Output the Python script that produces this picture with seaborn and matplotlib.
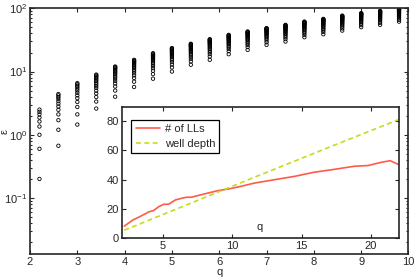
import numpy as np
import pandas as pd
import matplotlib
matplotlib.use("Agg")
import matplotlib.pyplot as plt
import seaborn as sns

# --- main panel: energy levels per q ---
q_values = [2.2, 2.6, 3.0, 3.4, 3.8, 4.2, 4.6, 5.0, 5.4, 5.8,
            6.2, 6.6, 7.0, 7.4, 7.8, 8.2, 8.6, 9.0, 9.4, 9.8]

levels = [
    [0.2, 0.6, 1.0, 1.35, 1.62, 1.87, 2.1, 2.3, 2.5],
    [0.67, 1.2, 1.7, 2.1, 2.48, 2.8, 3.1, 3.4, 3.7, 3.95, 4.2, 4.4],
    [1.45, 2.1, 2.75, 3.3, 3.8, 4.2, 4.6, 5.0, 5.35, 5.7, 6.0, 6.3, 6.55],
    [2.6, 3.35, 3.95, 4.5, 5.0, 5.5, 5.9, 6.3, 6.7, 7.1, 7.45, 7.8, 8.1, 8.4, 8.7, 8.95],
    [4.0, 5.0, 5.8, 6.5, 7.1, 7.7, 8.2, 8.7, 9.2, 9.6, 10.0, 10.4, 10.8, 11.2, 11.5, 11.8, 12.0],
    [5.7, 6.9, 7.9, 8.7, 9.4, 10.1, 10.7, 11.3, 11.9, 12.4, 12.9, 13.4, 13.8, 14.2, 14.6, 15.0, 15.3],
    [7.7, 9.1, 10.3, 11.3, 12.2, 13.0, 13.8, 14.5, 15.2, 15.8, 16.4, 17.0, 17.5, 18.0, 18.5, 19.0, 19.5],
    [10.0, 11.6, 12.9, 14.1, 15.1, 16.0, 16.9, 17.7, 18.4, 19.1, 19.8, 20.4, 21.0, 21.6, 22.1, 22.6, 23.1, 23.5],
    [12.8, 14.5, 15.9, 17.1, 18.2, 19.2, 20.2, 21.1, 21.9, 22.7, 23.4, 24.1, 24.8, 25.4, 26.0, 26.5, 27.0, 27.5],
    [15.3, 17.3, 18.9, 20.3, 21.6, 22.8, 23.9, 24.9, 25.9, 26.8, 27.7, 28.5, 29.3, 30.0, 30.7, 31.3, 31.9, 32.5],
    [18.8, 21.0, 22.8, 24.4, 25.8, 27.1, 28.3, 29.5, 30.6, 31.6, 32.6, 33.5, 34.4, 35.2, 36.0, 36.7, 37.4, 38.0],
    [22.0, 24.4, 26.4, 28.1, 29.7, 31.1, 32.5, 33.7, 34.9, 36.0, 37.1, 38.1, 39.0, 39.9, 40.8, 41.6, 42.3, 43.0],
    [26.4, 29.0, 31.1, 33.0, 34.7, 36.2, 37.6, 39.0, 40.2, 41.4, 42.5, 43.6, 44.6, 45.6, 46.5, 47.3, 48.0, 48.5],
    [29.8, 32.6, 35.0, 37.1, 39.0, 40.7, 42.3, 43.8, 45.2, 46.5, 47.8, 49.0, 50.1, 51.2, 52.2, 53.1, 54.0, 54.7],
    [34.9, 38.0, 40.6, 42.9, 44.9, 46.8, 48.5, 50.1, 51.6, 53.0, 54.3, 55.6, 56.8, 57.9, 59.0, 60.0, 60.9, 61.6],
    [38.9, 42.2, 45.0, 47.5, 49.7, 51.7, 53.6, 55.3, 56.9, 58.4, 59.8, 61.2, 62.5, 63.7, 64.9, 66.0, 67.0, 68.0],
    [44.4, 48.0, 51.1, 53.8, 56.2, 58.4, 60.4, 62.3, 64.1, 65.7, 67.3, 68.8, 70.2, 71.6, 72.9, 74.1, 75.4, 76.7],
    [50.3, 54.2, 57.5, 60.3, 62.9, 65.2, 67.4, 69.4, 71.3, 73.1, 74.8, 76.4, 77.9, 79.3, 80.7, 82.0, 83.0, 83.6],
    [54.7, 58.8, 62.3, 65.4, 68.1, 70.6, 72.9, 75.1, 77.1, 79.0, 80.8, 82.5, 84.1, 85.7, 87.2, 88.6, 89.9, 91.0],
    [61.6, 65.9, 69.6, 72.8, 75.7, 78.3, 80.8, 83.1, 85.3, 87.3, 89.2, 91.0, 92.7, 94.3, 95.8, 97.0, 97.7],
]

# --- inset: number of Landau levels and well depth ---
ll_q = [2.2, 2.8, 3.4, 4.0, 4.3, 4.7, 5.05, 5.4, 5.9, 6.35, 6.7, 7.05, 8.0, 9.0,
        9.7, 10.4, 10.9, 11.6, 13.05, 14.5, 15.9, 17.3, 18.8, 19.8, 20.8, 21.4, 22.0]
ll_count = [8.1, 12.2, 15.0, 18.0, 18.7, 21.5, 23.1, 23.1, 26.1, 27.2, 27.9, 27.9, 30.2, 32.5,
            33.5, 34.9, 36.0, 37.6, 39.9, 42.2, 45.0, 46.9, 49.1, 49.6, 51.9, 52.9, 50.3]
depth_q = [2.2, 5.05, 11.6, 17.3, 22.0]
depth = [5.3, 16.3, 41.6, 63.3, 81.0]

sns.set_style("ticks")
plt.rcParams['font.family'] = ['Liberation Sans', 'DejaVu Sans']
plt.rcParams['mathtext.fontset'] = 'custom'
plt.rcParams['mathtext.rm'] = 'Liberation Sans'
plt.rcParams['font.size'] = 8
for k in ['xtick.direction', 'ytick.direction']:
    plt.rcParams[k] = 'in'

df = pd.DataFrame({
    'q': [q for q, col in zip(q_values, levels) for _ in col],
    'eps': [v for col in levels for v in col],
})

fig = plt.figure(figsize=(4.15, 2.77), dpi=100)
ax = fig.add_axes([0.0723, 0.083, 0.912, 0.887])

sns.scatterplot(data=df, x='q', y='eps', ax=ax, marker='o', s=6,
                facecolor='none', edgecolor='black', linewidth=0.6, legend=False)
ax.set_yscale('log')
ax.set_xlim(2, 10)
ax.set_ylim(0.013, 100)
ax.set_xticks(range(2, 11))
ax.set_xlabel('q', labelpad=0)
ax.set_ylabel('ε')
ax.yaxis.set_label_coords(-0.053, 0.5)
ax.tick_params(which='both', top=True, right=True, labelsize=8, length=3, width=0.8, pad=2)
ax.tick_params(which='minor', length=1.5)
for s in ax.spines.values():
    s.set_linewidth(1.2)

# Inset
ax_in = fig.add_axes([0.2928, 0.1408, 0.6675, 0.4747])
sns.lineplot(x=ll_q, y=ll_count, ax=ax_in, color='#ff5a4a', linewidth=1.2, label='# of LLs')
sns.lineplot(x=depth_q, y=depth, ax=ax_in, color='#c5dc1c', linewidth=1.2,
             linestyle=(0, (3, 2)), label='well depth')
ax_in.set_xlim(2, 22)
ax_in.set_ylim(0, 90)
ax_in.set_xticks([5, 10, 15, 20])
ax_in.set_yticks([0, 20, 40, 60, 80])
ax_in.set_xlabel('q')
ax_in.xaxis.set_label_coords(0.5, 0.125)
ax_in.tick_params(top=True, right=True, labelsize=8, length=3, width=0.8, pad=2)
for s in ax_in.spines.values():
    s.set_linewidth(1.2)
leg = ax_in.legend(loc='upper left', bbox_to_anchor=(0.035, 0.9), borderaxespad=0,
                   fancybox=False, framealpha=1, edgecolor='black', fontsize=8,
                   handlelength=2.2, handletextpad=0.4, borderpad=0.4, labelspacing=0.4)
leg.get_frame().set_linewidth(0.9)

fig.savefig('out.png', dpi=100)
